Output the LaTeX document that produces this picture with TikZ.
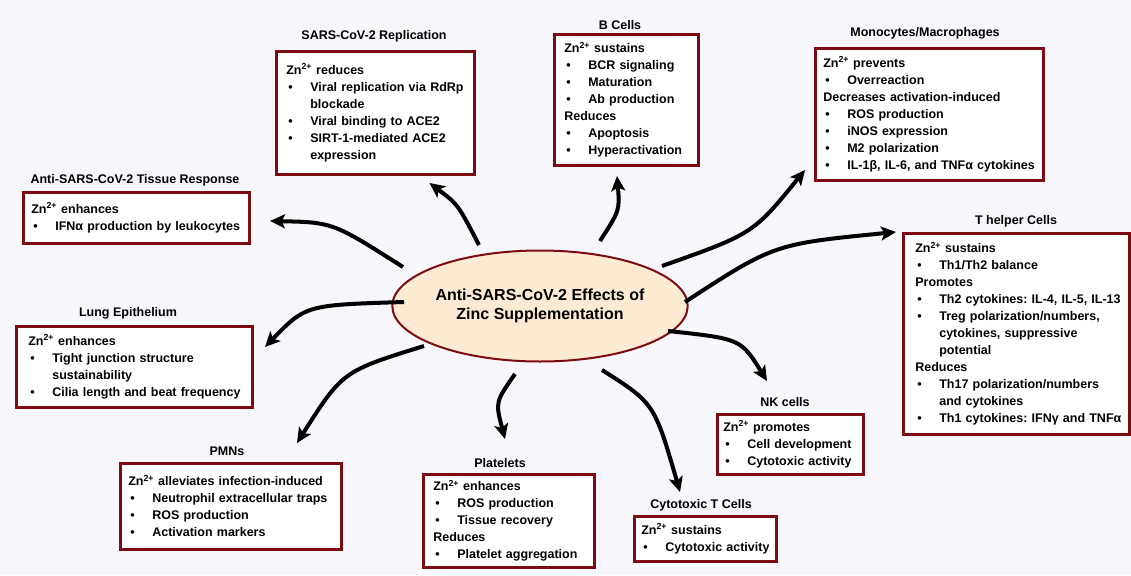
\documentclass[tikz,border=0pt]{standalone}
\usepackage{fontspec}
\setmainfont{Liberation Sans}
\usetikzlibrary{arrows.meta,shapes.geometric}
\definecolor{bgcol}{RGB}{246,246,251}
\definecolor{boxred}{RGB}{125,12,18}
\definecolor{peach}{RGB}{252,234,210}
\newcommand{\zn}{Zn\textsuperscript{2+}}
\newcommand{\hd}[1]{\mbox{#1}}
\newcommand{\bul}[1]{\mbox{\hspace*{2pt}\makebox[22pt][l]{\textbullet}#1}}
\newcommand{\cont}[1]{\mbox{\hspace*{24pt}#1}}
\frenchspacing
\begin{document}
\begin{tikzpicture}[x=1pt,y=-1pt,
  font=\fontsize{12.5}{17}\selectfont\bfseries\frenchspacing,
  box/.style n args={3}{draw=boxred, line width=2.6pt, fill=white, anchor=north west,
    align=left, inner ysep=0pt, text width=#1, minimum height=#2, inner xsep=#3},
  lab/.style={inner sep=0pt},
  arr/.style={line width=4pt, -{Stealth[length=15pt,width=14pt,inset=3.5pt]}}
]
\fill[bgcol] (0,0) rectangle (1131,575);
\useasboundingbox (0,0) rectangle (1131,575);

% central node
\node[ellipse, draw=boxred, fill=peach, line width=2pt, minimum width=250pt,
  minimum height=111pt, align=center, inner sep=0pt,
  font=\fontsize{16}{19}\selectfont\bfseries] (c) at (540,306)
  {Anti-SARS-CoV-2 Effects of\\Zinc Supplementation};

% Tissue response
\node[lab] (l1) at (135,180) {Anti-SARS-CoV-2 Tissue Response};
\node[box={210pt}{51pt}{8pt}] (b1) at (22,191)
  {\hd{\zn{} enhances}\\ \bul{IFNα production by leukocytes}};

% Replication
\node[lab] (l2) at (374,36) {SARS-CoV-2 Replication};
\node[box={178pt}{123pt}{10pt}] (b2) at (275,50)
  {\hd{\zn{} reduces}\\ \bul{Viral replication via RdRp}\\ \cont{blockade}\\
   \bul{Viral binding to ACE2}\\ \bul{SIRT-1-mediated ACE2}\\ \cont{expression}};

% B cells
\node[lab] (l3) at (620,25) {B Cells};
\node[box={124pt}{131pt}{10pt}] (b3) at (553,33)
  {\hd{\zn{} sustains}\\ \bul{BCR signaling}\\ \bul{Maturation}\\ \bul{Ab production}\\
   \hd{Reduces}\\ \bul{Apoptosis}\\ \bul{Hyperactivation}};

% Monocytes
\node[lab] (l4) at (925,33) {Monocytes/Macrophages};
\node[box={212pt}{132pt}{8pt}] (b4) at (814,47)
  {\hd{\zn{} prevents}\\ \bul{Overreaction}\\ \hd{Decreases activation-induced}\\
   \bul{ROS production}\\ \bul{iNOS expression}\\ \bul{M2 polarization}\\
   \bul{IL-1β, IL-6, and TNFα cytokines}};

% T helper
\node[lab] (l5) at (1016,221) {T helper Cells};
\node[box={202pt}{201pt}{12pt}] (b5) at (902,232)
  {\hd{\zn{} sustains}\\ \bul{Th1/Th2 balance}\\ \hd{Promotes}\\
   \bul{Th2 cytokines: IL-4, IL-5, IL-13}\\ \bul{Treg polarization/numbers,}\\
   \cont{cytokines, suppressive}\\ \cont{potential}\\ \hd{Reduces}\\
   \bul{Th17 polarization/numbers}\\ \cont{and cytokines}\\
   \bul{Th1 cytokines: IFNγ and TNFα}};

% Lung epithelium
\node[lab] (l6) at (128,313) {Lung Epithelium};
\node[box={212pt}{81pt}{12pt}] (b6) at (15,325)
  {\hd{\zn{} enhances}\\ \bul{Tight junction structure}\\ \cont{sustainability}\\
   \bul{Cilia length and beat frequency}};

% PMNs
\node[lab] (l7) at (227,451) {PMNs};
\node[box={205pt}{86pt}{8pt}] (b7) at (119,462)
  {\hd{\zn{} alleviates infection-induced}\\ \bul{Neutrophil extracellular traps}\\
   \bul{ROS production}\\ \bul{Activation markers}};

% Platelets
\node[lab] (l8) at (500,463) {Platelets};
\node[box={151pt}{93pt}{10pt}] (b8) at (422,473)
  {\hd{\zn{} enhances}\\ \bul{ROS production}\\ \bul{Tissue recovery}\\
   \hd{Reduces}\\ \bul{Platelet aggregation}};

% Cytotoxic T
\node[lab] (l9) at (701,505) {Cytotoxic T Cells};
\node[box={128pt}{45pt}{7pt}] (b9) at (633,515)
  {\hd{\zn{} sustains}\\ \bul{Cytotoxic activity}};

% NK cells
\node[lab] (l10) at (785,402) {NK cells};
\node[box={134pt}{60pt}{6pt}] (b10) at (716,413)
  {\hd{\zn{} promotes}\\ \bul{Cell development}\\ \bul{Cytotoxic activity}};

% arrow end points
\coordinate (s1) at (403,267);  \coordinate (e1) at (270,221);
\coordinate (s2) at (479,245);  \coordinate (e2) at (429.5,183);
\coordinate (s3) at (600,241);  \coordinate (e3) at (617,176);
\coordinate (s4) at (662,266);  \coordinate (e4) at (805,170);
\coordinate (s5) at (685,302);  \coordinate (e5) at (896,232);
\coordinate (s6) at (404,302);  \coordinate (e6) at (265,347);
\coordinate (s7) at (424,346);  \coordinate (e7) at (297,443);
\coordinate (s8) at (515,374);  \coordinate (e8) at (505,439);
\coordinate (s9) at (602,370);  \coordinate (e9) at (680,492);
\coordinate (s10) at (668,331); \coordinate (e10) at (767,381);

\draw[arr] (s1) .. controls (332.8,222.3) .. (e1);
\draw[arr] (s2) .. controls (457.9,204.3) .. (e2);
\draw[arr] (s3) .. controls (619.8,210.3) .. (e3);
\draw[arr] (s4) .. controls (753,233.8) .. (e4);
\draw[arr] (s5) .. controls (774,244) .. (e5);
\draw[arr] (s6) .. controls (305.7,305) .. (e6);
\draw[arr] (s7) .. controls (342.5,371.3) .. (e7);
\draw[arr] (s8) .. controls (495.3,402) .. (e8);
\draw[arr] (s9) .. controls (654.3,403.2) .. (e9);
\draw[arr] (s10) .. controls (740.8,338.8) .. (e10);
\end{tikzpicture}
\end{document}
